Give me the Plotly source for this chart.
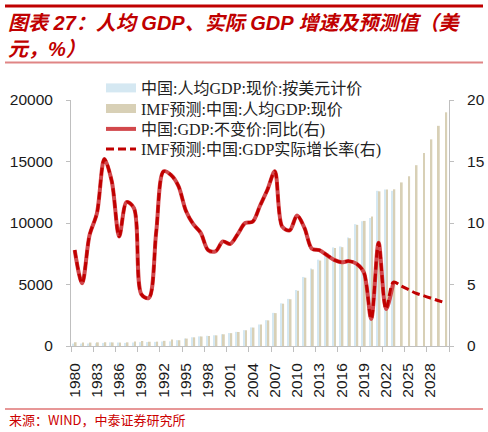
import plotly.graph_objects as go

# ---------------- data ----------------
years = list(range(1980, 2031))
years_actual = list(range(1980, 2024))

# 中国:人均GDP:现价:按美元计价 (USD)
pc_gdp_actual = [195, 197, 203, 225, 251, 294, 282, 252, 284, 311,
                 318, 333, 366, 377, 473, 610, 709, 782, 829, 873,
                 959, 1053, 1149, 1289, 1509, 1753, 2099, 2694, 3468, 3832,
                 4550, 5614, 6301, 7020, 7636, 8016, 8094, 8817, 9905, 10144,
                 10409, 12618, 12720, 12614]

# IMF预测:中国:人均GDP:现价 (USD)
pc_gdp_imf = [307, 288, 280, 297, 306, 291, 278, 297, 365, 405,
              346, 355, 419, 519, 469, 604, 703, 774, 820, 865,
              951, 1045, 1140, 1280, 1498, 1740, 2082, 2673, 3441, 3800,
              4500, 5553, 6229, 6945, 7546, 7959, 8033, 8760, 9849, 10170,
              10525, 12572, 12720, 12740, 13300, 13800, 14700, 15700, 16800, 17900,
              19000]

# 中国:GDP:不变价:同比 (%)
gdp_growth = [7.8, 5.1, 9.0, 10.8, 15.2, 13.4, 8.9, 11.7, 11.2, 4.2,
              3.9, 9.3, 14.2, 13.9, 13.0, 11.0, 9.9, 9.2, 7.8, 7.7,
              8.5, 8.3, 9.1, 10.0, 10.1, 11.4, 12.7, 14.2, 9.7, 9.4,
              10.6, 9.6, 7.9, 7.8, 7.4, 7.0, 6.8, 6.9, 6.7, 6.0,
              2.2, 8.4, 3.0, 5.2]

# IMF预测:中国:GDP实际增长率 (%)
gdp_growth_imf = [7.8, 5.1, 9.0, 10.8, 15.2, 13.4, 8.9, 11.7, 11.2, 4.2,
                  3.9, 9.3, 14.2, 13.9, 13.0, 11.0, 9.9, 9.2, 7.8, 7.7,
                  8.5, 8.3, 9.1, 10.0, 10.1, 11.4, 12.7, 14.2, 9.7, 9.4,
                  10.6, 9.6, 7.9, 7.8, 7.4, 7.0, 6.8, 6.9, 6.7, 6.0,
                  2.2, 8.4, 3.0, 5.2, 4.9, 4.6, 4.3, 4.1, 3.9, 3.7,
                  3.5]

tick_years = list(range(1980, 2029, 3))
tick_labels = [str(y) for y in tick_years]
boundary_ticks = [1979.5 + 3 * k for k in range(18)]

left_ticks = [0, 5000, 10000, 15000, 20000]
left_labels = ["0", "5000", "10000", "15000", "20000"]
right_ticks = [0, 5, 10, 15, 20]
right_labels = ["0", "5", "10", "15", "20"]

names = ["中国:人均GDP:现价:按美元计价",
         "IMF预测:中国:人均GDP:现价",
         "中国:GDP:不变价:同比(右)",
         "IMF预测:中国:GDP实际增长率(右)"]

title_line1 = "图表 27：人均 GDP、实际 GDP 增速及预测值（美"
title_line2 = "元，%）"
source_text = "来源：WIND，中泰证券研究所"

# ---------------- style ----------------
W, H = 488, 432
ML, MR, MT, MB = 71, 39, 100, 86
PW, PH = W - ML - MR, H - MT - MB

def px2x(px):
    return (px - ML) / PW

def px2y(py):
    return (H - MB - py) / PH

BLUE = "#d5e8f2"
TAN = "#d8d0b6"
SOLID = "#d2484c"
DASH = "#c00000"
AXIS = "#bfbfbf"
TICKFONT = dict(family="Liberation Sans, Arial, sans-serif", size=15.5, color="#1a1a1a")
LEGFONT = dict(family="Liberation Serif, Noto Sans CJK SC, serif", size=16, color="#222222")
TITLEFONT = dict(family="Liberation Sans, Noto Sans CJK SC, sans-serif", size=20,
                 color="#c00000", weight="bold", style="italic")

fig = go.Figure()

# legend proxies for the bar series (wide swatches like the original)
fig.add_trace(go.Scatter(x=[None], y=[None], mode="lines", name=names[0],
                         line=dict(color=BLUE, width=9), hoverinfo="skip",
                         legend="legend"))
fig.add_trace(go.Scatter(x=[None], y=[None], mode="lines", name=names[1],
                         line=dict(color=TAN, width=9), hoverinfo="skip",
                         legend="legend2"))

fig.add_trace(go.Bar(x=years_actual, y=pc_gdp_actual, name=names[0],
                     marker=dict(color=BLUE, line=dict(width=0)),
                     showlegend=False, offsetgroup="a"))
fig.add_trace(go.Bar(x=years, y=pc_gdp_imf, name=names[1],
                     marker=dict(color=TAN, line=dict(width=0)),
                     showlegend=False, offsetgroup="b"))

fig.add_trace(go.Scatter(x=years_actual, y=gdp_growth, name=names[2], yaxis="y2",
                         mode="lines", line=dict(color=SOLID, width=4, shape="spline",
                                                 smoothing=0.9),
                         legend="legend3"))
fig.add_trace(go.Scatter(x=years, y=gdp_growth_imf, name=names[3], yaxis="y2",
                         mode="lines", line=dict(color=DASH, width=3, dash="8px,4px",
                                                 shape="spline", smoothing=0.9),
                         legend="legend4"))

def leg(py):
    return dict(x=px2x(101), y=px2y(py), xanchor="left", yanchor="middle",
                bgcolor="rgba(0,0,0,0)", borderwidth=0, font=LEGFONT,
                itemwidth=30, tracegroupgap=0)

fig.update_layout(
    width=W, height=H,
    margin=dict(l=ML, r=MR, t=MT, b=MB, autoexpand=False),
    paper_bgcolor="white", plot_bgcolor="white",
    barmode="group", bargap=0.5, bargroupgap=0,
    showlegend=True,
    legend=leg(88), legend2=leg(108.5), legend3=leg(129), legend4=leg(149),
    xaxis=dict(range=[1979.5, 2030.5], tickmode="array", tickvals=tick_years,
               ticktext=tick_labels, tickangle=-90, ticks="", showgrid=False,
               showline=True, linecolor=AXIS, linewidth=1, zeroline=False,
               tickfont=TICKFONT, ticklabelstandoff=10,
               minor=dict(tickmode="array", tickvals=boundary_ticks, ticks="outside",
                          ticklen=5, tickcolor=AXIS, tickwidth=1, showgrid=False)),
    yaxis=dict(range=[0, 20000], tickmode="array", tickvals=left_ticks,
               ticktext=left_labels,
               ticks="outside", ticklen=4, tickcolor=AXIS, showgrid=False,
               showline=True, linecolor=AXIS, linewidth=1, zeroline=False,
               tickfont=TICKFONT, ticklabelstandoff=10),
    yaxis2=dict(range=[0, 20], tickmode="array", tickvals=right_ticks,
                ticktext=right_labels,
                overlaying="y", side="right", ticks="outside", ticklen=4,
                tickcolor=AXIS, showgrid=False, showline=True, linecolor=AXIS,
                linewidth=1, zeroline=False, tickfont=TICKFONT, ticklabelstandoff=10),
)

# header / footer decorations
shapes = [
    dict(type="line", xref="paper", yref="paper", x0=px2x(5), x1=px2x(483),
         y0=px2y(6), y1=px2y(6), line=dict(color="#c00000", width=3)),
    dict(type="line", xref="paper", yref="paper", x0=px2x(5), x1=px2x(483),
         y0=px2y(62.5), y1=px2y(62.5), line=dict(color="#e08585", width=2)),
    dict(type="line", xref="paper", yref="paper", x0=px2x(5), x1=px2x(483),
         y0=px2y(409), y1=px2y(409), line=dict(color="#d03030", width=1.2)),
]
fig.update_layout(shapes=shapes)

fig.add_annotation(xref="paper", yref="paper", x=px2x(6), y=px2y(22.5),
                   xanchor="left", yanchor="middle", align="left", showarrow=False,
                   text=title_line1, font=TITLEFONT)
fig.add_annotation(xref="paper", yref="paper", x=px2x(6), y=px2y(49),
                   xanchor="left", yanchor="middle", align="left", showarrow=False,
                   text=title_line2, font=TITLEFONT)
fig.add_annotation(xref="paper", yref="paper", x=px2x(7), y=px2y(419),
                   xanchor="left", yanchor="middle", align="left", showarrow=False,
                   text=source_text,
                   font=dict(family="Noto Sans CJK SC, sans-serif", size=13,
                             color="#cc0000"))

fig.write_html("out.html",
               config={"displayModeBar": False},
               post_script="document.body.style.margin='0';"
                           "document.body.style.overflow='hidden';")
